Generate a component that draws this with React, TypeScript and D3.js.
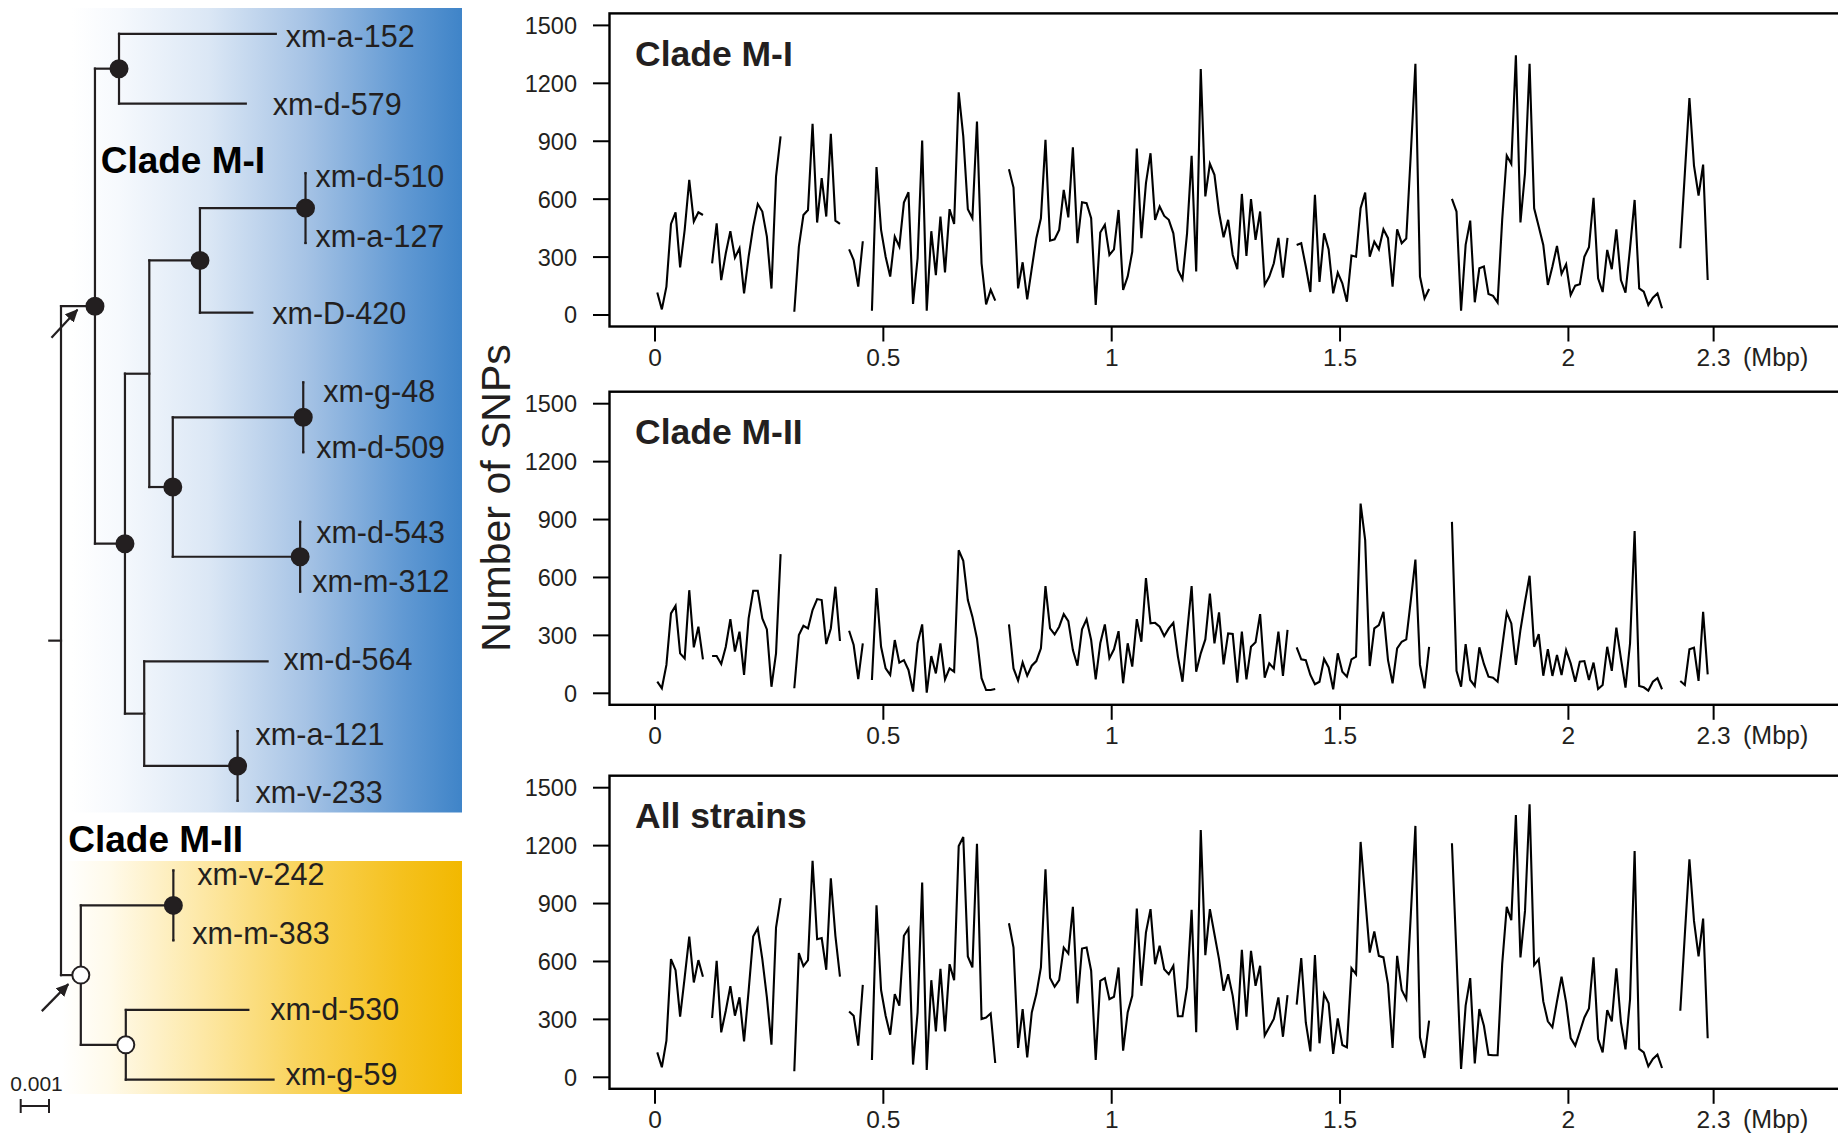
import React from 'react';
import * as d3 from 'd3';

// ---------------- DATA ----------------
// SNP counts in sliding windows (10 kb step, first window centred at 5 kb); null = no data
const WINDOW_START = 0.005; // Mbp
const WINDOW_STEP = 0.01; // Mbp

const cladeMI: (number | null)[] = [
  117, 29, 147, 472, 532, 247, 441, 700, 484, 532, 518,
  null,
  268, 475, 181, 320, 434, 297, 346, 112, 302, 458, 575, 536, 406, 137, 717, 925,
  null, null,
  17, 354, 518, 544, 990, 479, 709, 510, 938, 489, 472,
  null,
  340, 285, 147, 382,
  null,
  22, 766, 441, 302, 199, 406, 354, 582, 636, 57, 294, 904, 22, 434, 206, 510, 221, 548, 472, 1153, 925, 548, 501, 1002, 268, 55, 130, 74,
  null, null,
  755, 660, 138, 273, 81, 242, 398, 501, 907, 385, 392, 441, 648, 506, 869, 372, 584, 579, 501, 52,
  427, 467, 311, 340, 544, 130, 199, 328, 862, 398, 683, 838, 493, 562, 513, 493, 423, 233, 185, 423,
  824, 225, 1274, 614, 783, 726, 531, 403, 493, 311, 237, 627, 306, 600, 389, 536, 156, 199, 268, 399, 194, 399,
  null,
  363, 372, 251, 119, 622, 171, 423, 340, 112, 219, 164, 69, 308, 302, 553, 634, 302, 380, 340, 444, 398, 147, 444, 372, 396, 838, 1301, 199, 86, 135,
  null, null, null, null,
  601, 536, 22, 363, 489, 66, 242, 251, 109, 99, 64, 493, 826, 783, 1345, 479, 735, 1301, 553, 458,
  363, 156, 251, 358, 213, 263, 104, 152, 159, 302, 351, 607, 190, 119, 337, 237, 444, 181, 116, 346,
  596, 138, 121, 52, 90, 112, 35,
  null, null, null,
  346, 735, 1123, 773, 619, 779, 181,
];

const cladeMII: (number | null)[] = [
  60, 26, 147, 414, 453, 207, 181, 534, 238, 345, 176,
  null,
  193, 193, 152, 241, 384, 216, 319, 95, 388, 531, 531, 388, 331, 34, 207, 721,
  null, null,
  26, 302, 350, 336, 431, 488, 483, 255, 336, 552, 271,
  null,
  324, 250, 74, 259,
  null,
  69, 545, 241, 129, 95, 276, 159, 172, 121, 9, 259, 357, 3, 193, 103, 259, 72, 129, 112, 741, 686, 483, 397, 284, 78, 17, 17, 22,
  null, null,
  357, 129, 66, 160, 91, 143, 167, 233, 555, 336, 305, 345, 410, 374, 224, 143, 331, 383, 276, 72,
  259, 357, 181, 228, 322, 52, 259, 138, 384, 267, 597, 362, 365, 345, 297, 336, 365, 190, 60, 310,
  555, 112, 207, 279, 517, 259, 419, 150, 310, 307, 55, 319, 72, 241, 264, 410, 81, 155, 129, 319, 90, 328,
  null,
  238, 176, 172, 95, 47, 60, 178, 134, 21, 207, 112, 86, 176, 190, 983, 793, 141, 336, 353, 422, 172, 52, 233, 267, 279, 483, 693, 147, 26, 241,
  null, null, null, null,
  888, 116, 34, 255, 69, 38, 238, 152, 86, 81, 60, 241, 419, 362, 147, 328, 474, 609, 241, 307,
  91, 228, 90, 198, 95, 224, 155, 60, 164, 167, 69, 159, 22, 43, 241, 116, 340, 181, 29, 259,
  840, 38, 31, 14, 60, 78, 21,
  null, null, null,
  64, 43, 228, 236, 64, 422, 98,
];

const allStrains: (number | null)[] = [
  129, 52, 190, 612, 555, 314, 517, 729, 491, 607, 521,
  null,
  307, 603, 233, 345, 472, 319, 414, 186, 448, 729, 772, 612, 414, 169, 776, 928,
  null, null,
  31, 643, 576, 607, 1121, 715, 721, 557, 1031, 733, 522,
  null,
  341, 319, 164, 479,
  null,
  90, 891, 452, 319, 221, 431, 371, 733, 771, 66, 336, 1009, 38, 503, 238, 562, 238, 586, 503, 1198, 1245, 626, 569, 1210, 302, 310, 331, 74,
  null, null,
  798, 672, 152, 353, 103, 336, 431, 569, 1078, 514, 469, 503, 672, 641, 883, 383, 667, 672, 552, 90,
  500, 514, 405, 417, 569, 138, 336, 422, 874, 474, 750, 871, 586, 681, 560, 534, 578, 316, 316, 466,
  867, 233, 1281, 633, 871, 741, 612, 448, 534, 422, 245, 660, 314, 655, 474, 578, 216, 259, 302, 414, 210, 426,
  null,
  376, 617, 284, 134, 633, 176, 431, 383, 121, 305, 167, 155, 565, 534, 1219, 931, 646, 755, 629, 621, 483, 152, 629, 452, 405, 845, 1302, 207, 100, 293,
  null, null, null, null,
  1212, 628, 43, 371, 514, 72, 353, 267, 117, 114, 114, 586, 883, 814, 1359, 621, 862, 1414, 581, 612,
  393, 290, 259, 393, 521, 388, 203, 164, 236, 310, 357, 621, 198, 129, 348, 290, 565, 284, 145, 405,
  1172, 147, 129, 57, 95, 117, 48,
  null, null, null,
  345, 741, 1129, 810, 626, 822, 202,
];

const panelTitles = ['Clade M-I', 'Clade M-II', 'All strains'];
const panelSeries = [cladeMI, cladeMII, allStrains];
const yTickValues = [0, 300, 600, 900, 1200, 1500];
const xTickValues = [0, 0.5, 1, 1.5, 2, 2.318];
const xTickLabels = ['0', '0.5', '1', '1.5', '2', '2.3'];

// Phylogeny (branch lengths in substitutions/site)
type TNode = { name?: string; len: number; support?: 'filled' | 'open'; children?: TNode[] };
const tree: TNode = {
  len: 0,
  children: [
    {
      len: 0.0012, support: 'filled', children: [
        { len: 0.00085, support: 'filled', children: [
          { name: 'xm-a-152', len: 0.00554 },
          { name: 'xm-d-579', len: 0.00448 },
        ] },
        { len: 0.00106, support: 'filled', children: [
          { len: 0.00086, children: [
            { len: 0.00179, support: 'filled', children: [
              { len: 0.00373, support: 'filled', children: [
                { name: 'xm-d-510', len: 0 },
                { name: 'xm-a-127', len: 0 },
              ] },
              { name: 'xm-D-420', len: 0.00185 },
            ] },
            { len: 0.00083, support: 'filled', children: [
              { len: 0.00461, support: 'filled', children: [
                { name: 'xm-g-48', len: 0 },
                { name: 'xm-d-509', len: 0 },
              ] },
              { len: 0.0045, support: 'filled', children: [
                { name: 'xm-d-543', len: 0 },
                { name: 'xm-m-312', len: 0 },
              ] },
            ] },
          ] },
          { len: 0.00068, children: [
            { name: 'xm-d-564', len: 0.00436 },
            { len: 0.0033, support: 'filled', children: [
              { name: 'xm-a-121', len: 0 },
              { name: 'xm-v-233', len: 0 },
            ] },
          ] },
        ] },
      ],
    },
    {
      len: 0.0007, support: 'open', children: [
        { len: 0.00327, support: 'filled', children: [
          { name: 'xm-v-242', len: 0 },
          { name: 'xm-m-383', len: 0 },
        ] },
        { len: 0.00159, support: 'open', children: [
          { name: 'xm-d-530', len: 0.00433 },
          { name: 'xm-g-59', len: 0.00522 },
        ] },
      ],
    },
  ],
};
const scaleBarValue = 0.001;

// ---------------- LAYOUT / STYLE ----------------
const FONT = '"Liberation Sans", Arial, Helvetica, sans-serif';
const INK = '#231f20';
const PANEL_Y0 = [315, 693.3, 1077.3];
const PANEL_H = 289.6;
const FRAME_LEFT = 609.5;
const labelOffsets: Record<string, [number, number]> = {
  'xm-a-152': [10, 2], 'xm-d-579': [27, 0], 'xm-d-510': [10, 3], 'xm-a-127': [10, -7],
  'xm-D-420': [20, 0], 'xm-g-48': [20, 9], 'xm-d-509': [13, -5], 'xm-d-543': [16, 10],
  'xm-m-312': [12, -11], 'xm-d-564': [16, -2], 'xm-a-121': [18, 3], 'xm-v-233': [18, -9],
  'xm-v-242': [24, 3], 'xm-m-383': [19, -7], 'xm-d-530': [22, -1], 'xm-g-59': [12, -6],
};

export default function App() {
  const positions = panelSeries[0].map((_, i) => WINDOW_START + i * WINDOW_STEP);
  const x = d3.scaleLinear().domain([0, 1]).range([655, 1111.7]);

  // ---------- tree layout ----------
  const root = d3.hierarchy<TNode>(tree, (d) => d.children);
  const tx = d3.scaleLinear().domain([0, scaleBarValue]).range([61, 61 + 28.3]);
  const leaves = root.leaves();
  const ty = d3.scaleLinear().domain([0, leaves.length - 1]).range([33.8, 1079.7]);
  const pos = new Map<any, { x: number; y: number }>();
  const depthOf = (n: d3.HierarchyNode<TNode>): number =>
    n.parent ? depthOf(n.parent) + n.data.len : 0;
  leaves.forEach((l, i) => pos.set(l, { x: 0, y: ty(i) }));
  root.eachAfter((n) => {
    const dx = tx(depthOf(n));
    if (n.children) {
      const ys = n.children.map((c) => pos.get(c)!.y);
      pos.set(n, { x: dx, y: (ys[0] + ys[ys.length - 1]) / 2 });
    } else {
      pos.get(n)!.x = dx;
    }
  });
  const nodes = root.descendants();
  const rootPos = pos.get(root)!;
  const pMI = pos.get(root.children![0])!;
  const pMII = pos.get(root.children![1])!;
  const barLen = tx(scaleBarValue) - tx(0);

  return (
    <div style={{ position: 'absolute', left: 0, top: 0 }}>
      <svg width={1838} height={1134} style={{ display: 'block', fontFamily: FONT }}>
        <defs>
          <linearGradient id="blueGrad" x1="0" x2="1" y1="0" y2="0">
            <stop offset="0" stopColor="#ffffff" />
            <stop offset="0.12" stopColor="#f6f9fd" />
            <stop offset="0.35" stopColor="#dbe7f5" />
            <stop offset="0.6" stopColor="#a6c3e5" />
            <stop offset="0.85" stopColor="#6199d3" />
            <stop offset="1" stopColor="#3f84c8" />
          </linearGradient>
          <linearGradient id="yellowGrad" x1="0" x2="1" y1="0" y2="0">
            <stop offset="0" stopColor="#ffffff" />
            <stop offset="0.12" stopColor="#fffaea" />
            <stop offset="0.35" stopColor="#fde8a6" />
            <stop offset="0.6" stopColor="#f9d35a" />
            <stop offset="0.85" stopColor="#f5c11d" />
            <stop offset="1" stopColor="#f2b800" />
          </linearGradient>
          <marker id="arrowHead" markerWidth="14" markerHeight="12" refX="12" refY="6" orient="auto" markerUnits="userSpaceOnUse">
            <path d="M0,0 L13,6 L0,12 Z" fill={INK} />
          </marker>
        </defs>
        <rect x={0} y={0} width={1838} height={1134} fill="#ffffff" />

        {/* clade backgrounds */}
        <rect x={72} y={8} width={390} height={804.5} fill="url(#blueGrad)" />
        <rect x={62} y={861} width={400} height={233} fill="url(#yellowGrad)" />

        {/* tree branches */}
        <g stroke={INK} strokeWidth={2.2} fill="none" strokeLinecap="square">
          <line x1={rootPos.x - 11.7} x2={rootPos.x} y1={rootPos.y} y2={rootPos.y} />
          {nodes.filter((n) => n.parent).map((n, i) => {
            const p = pos.get(n)!;
            const pp = pos.get(n.parent)!;
            return <line key={'h' + i} x1={pp.x} x2={p.x} y1={p.y} y2={p.y} />;
          })}
          {nodes.filter((n) => n.children).map((n, i) => {
            const p = pos.get(n)!;
            const ys = n.children!.map((c) => pos.get(c)!.y);
            return <line key={'v' + i} x1={p.x} x2={p.x} y1={ys[0]} y2={ys[ys.length - 1]} />;
          })}
        </g>
        {nodes.filter((n) => n.data.support).map((n, i) => {
          const p = pos.get(n)!;
          return (
            <circle key={'c' + i} cx={p.x} cy={p.y} r={8.5}
              fill={n.data.support === 'filled' ? INK : '#ffffff'} stroke={INK} strokeWidth={2} />
          );
        })}
        {leaves.map((l, i) => {
          const p = pos.get(l)!;
          const off = labelOffsets[l.data.name!] || [12, 0];
          return (
            <text key={'t' + i} x={p.x + off[0]} y={p.y + off[1]} dy="0.36em" fontSize={30.5} fill={INK}>
              {l.data.name}
            </text>
          );
        })}
        {/* arrows */}
        <line x1={pMI.x - 43.5} y1={pMI.y + 31.5} x2={pMI.x - 17.5} y2={pMI.y + 3.5} stroke={INK} strokeWidth={2.2} markerEnd="url(#arrowHead)" />
        <line x1={pMII.x - 39} y1={pMII.y + 36} x2={pMII.x - 12.5} y2={pMII.y + 9} stroke={INK} strokeWidth={2.2} markerEnd="url(#arrowHead)" />
        {/* clade labels */}
        <text x={100.7} y={173} fontSize={37} fontWeight="bold" fill="#000">Clade M-I</text>
        <text x={68.3} y={852} fontSize={37} fontWeight="bold" fill="#000">Clade M-II</text>
        {/* scale bar */}
        <text x={36.5} y={1091} fontSize={21} textAnchor="middle" fill={INK}>0.001</text>
        <g stroke={INK} strokeWidth={2}>
          <line x1={20.7} x2={20.7 + barLen} y1={1106} y2={1106} />
          <line x1={20.7} x2={20.7} y1={1099} y2={1113} />
          <line x1={20.7 + barLen} x2={20.7 + barLen} y1={1099} y2={1113} />
        </g>

        {/* y-axis title */}
        <text transform="translate(510,498) rotate(-90)" textAnchor="middle" fontSize={41} fill={INK}>
          Number of SNPs
        </text>

        {/* panels */}
        {panelSeries.map((series, pi) => {
          const y0 = PANEL_Y0[pi];
          const y = d3.scaleLinear().domain([0, 1500]).range([y0, y0 - PANEL_H]);
          const top = y(1500) - 12;
          const bottom = y(0) + 11.5;
          const line = d3
            .line<number | null>()
            .defined((d) => d != null)
            .x((_, i) => x(positions[i]))
            .y((d) => y(d as number));
          return (
            <g key={'p' + pi}>
              <rect x={FRAME_LEFT} y={top} width={1400} height={bottom - top} fill="none" stroke="#000" strokeWidth={2.4} />
              <path d={line(series) || ''} fill="none" stroke="#000" strokeWidth={2.1} strokeLinejoin="miter" strokeMiterlimit={4} />
              <text x={635} y={y(1500) + 40.5} fontSize={35.5} fontWeight="bold" fill={INK}>
                {panelTitles[pi]}
              </text>
              {yTickValues.map((v) => (
                <g key={'yt' + v}>
                  <line x1={593} x2={FRAME_LEFT} y1={y(v)} y2={y(v)} stroke="#000" strokeWidth={2} />
                  <text x={577} y={y(v)} dy="0.36em" textAnchor="end" fontSize={23.5} fill={INK}>{v}</text>
                </g>
              ))}
              {xTickValues.map((v, i) => (
                <g key={'xt' + i}>
                  <line x1={x(v)} x2={x(v)} y1={bottom} y2={bottom + 15} stroke="#000" strokeWidth={2} />
                  <text x={x(v)} y={bottom + 39.5} textAnchor="middle" fontSize={24.5} fill={INK}>{xTickLabels[i]}</text>
                </g>
              ))}
              <text x={1743} y={bottom + 39.5} fontSize={25} fill={INK}>(Mbp)</text>
            </g>
          );
        })}
      </svg>
    </div>
  );
}
